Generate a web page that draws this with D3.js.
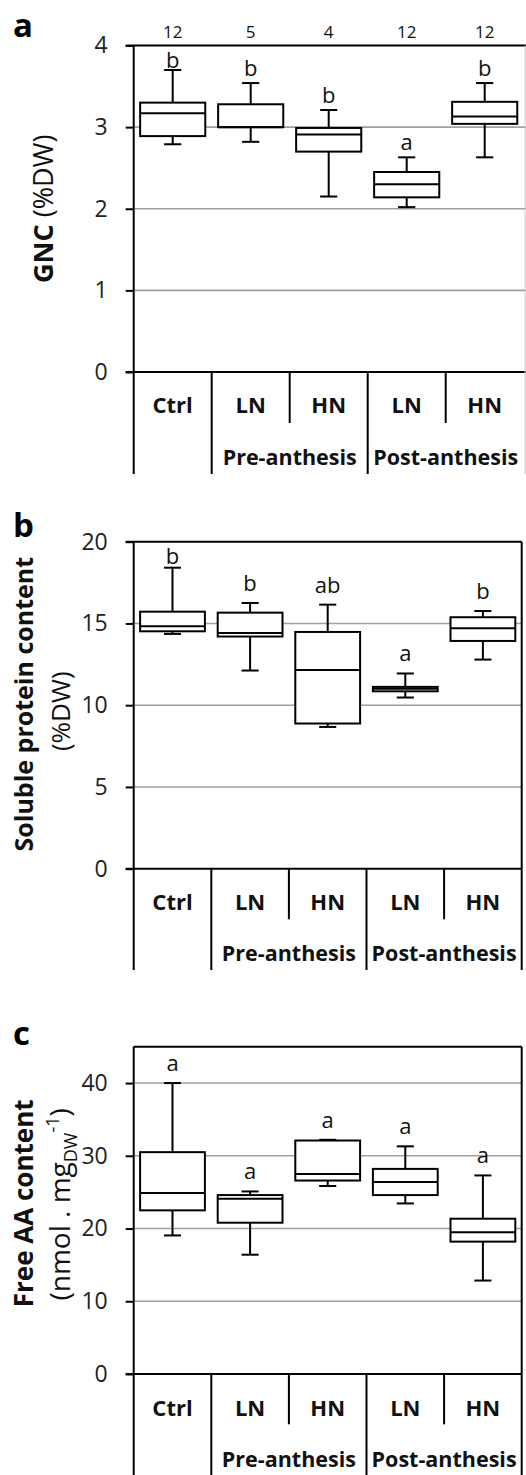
<!DOCTYPE html>
<html>
<head>
<meta charset="utf-8">
<script src="https://cdnjs.cloudflare.com/ajax/libs/d3/7.8.5/d3.min.js"></script>
<style>
body { margin: 0; background: #fff; }
svg { display: block; font-family: "Open Sans", sans-serif; }
</style>
</head>
<body>
<div id="chart-area"></div>
<script>

// Categories
var groups = ["Ctrl", "LN", "HN", "LN", "HN"];
var periods = ["Pre-anthesis", "Post-anthesis"];
var periodStart = [1, 3];

// Panel a : grain N content
var gncN = [12, 5, 4, 12, 12];
var gncHigh = [3.70, 3.54, 3.21, 2.63, 3.54];
var gncQ3 = [3.30, 3.28, 2.99, 2.45, 3.31];
var gncMed = [3.17, 3.00, 2.91, 2.30, 3.13];
var gncQ1 = [2.89, 3.00, 2.70, 2.14, 3.04];
var gncLow = [2.79, 2.82, 2.15, 2.02, 2.63];
var gncLetters = ["b", "b", "b", "a", "b"];
var gncTicks = [0, 1, 2, 3, 4];

// Panel b : soluble protein
var protHigh = [18.41, 16.25, 16.15, 11.94, 15.76];
var protQ3 = [15.72, 15.66, 14.48, 11.12, 15.38];
var protMed = [14.83, 14.42, 12.16, 11.00, 14.70];
var protQ1 = [14.52, 14.20, 8.88, 10.85, 13.93];
var protLow = [14.36, 12.12, 8.67, 10.47, 12.79];
var protLetters = ["b", "b", "ab", "a", "b"];
var protTicks = [0, 5, 10, 15, 20];

// Panel c : free amino acids
var aaHigh = [40.0, 25.1, 32.2, 31.3, 27.3];
var aaQ3 = [30.5, 24.6, 32.1, 28.2, 21.35];
var aaMed = [24.9, 24.1, 27.5, 26.4, 19.5];
var aaQ1 = [22.5, 20.8, 26.6, 24.6, 18.2];
var aaLow = [19.05, 16.4, 25.85, 23.45, 12.85];
var aaLetters = ["a", "a", "a", "a", "a"];
var aaTicks = [0, 10, 20, 30, 40];

var W = 526, H = 1475;

var svg = d3.select("#chart-area").append("svg")
	.attr("width", W)
	.attr("height", H);

var panels = [
	{ title: "a", titleY: 37, top: 45.5, y0: 372, max: 4, ticks: gncTicks, right: 523.7, hEnd: 526,
	  catY: 405, groupY: 457, lineBottom: 474, shortBottom: 423, gap: 7, n: gncN,
	  high: gncHigh, q3: gncQ3, med: gncMed, q1: gncQ1, low: gncLow, letters: gncLetters, ylab: "a" },
	{ title: "b", titleY: 537, top: 541.7, y0: 868.7, max: 20, ticks: protTicks, right: 521.7, hEnd: 521.7,
	  catY: 902, groupY: 953.3, lineBottom: 970, shortBottom: 919.3, gap: 12,
	  high: protHigh, q3: protQ3, med: protMed, q1: protQ1, low: protLow, letters: protLetters, ylab: "b" },
	{ title: "c", titleY: 1045, top: 1046.7, y0: 1374, max: 45, ticks: aaTicks, right: 521.7, hEnd: 521.7,
	  catY: 1408, groupY: 1459.3, lineBottom: 1475, shortBottom: 1424.3, gap: 12,
	  high: aaHigh, q3: aaQ3, med: aaMed, q1: aaQ1, low: aaLow, letters: aaLetters, ylab: "c" }
];

var left = 133.7;

panels.forEach(drawPanel);

function drawPanel(p) {
	var g = svg.append("g");

	var x = d3.scaleBand()
		.domain(d3.range(groups.length))
		.range([left, p.right]);

	var y = d3.scaleLinear()
		.domain([0, p.max])
		.range([p.y0, p.top]);

	var bw = x.bandwidth();
	var boxW = bw * 0.835;
	var capW = bw * 0.22;

	// gridlines
	g.selectAll(".grid").data(p.ticks.filter(function(d){ return d > 0 && d < p.max; }))
		.enter().append("line")
		.attr("x1", left).attr("x2", p.hEnd)
		.attr("y1", function(d){ return y(d); })
		.attr("y2", function(d){ return y(d); })
		.attr("stroke", "#a0a0a0")
		.attr("stroke-width", 1.6);

	// y axis ticks + labels
	var yAxis = d3.axisLeft(y).tickValues(p.ticks).tickFormat(d3.format("d"))
		.tickSize(8).tickPadding(18);
	var ax = g.append("g")
		.attr("transform", "translate(" + left + ",0)")
		.call(yAxis);
	ax.select(".domain").remove();
	ax.selectAll(".tick line").attr("stroke", "#000").attr("stroke-width", 2);
	ax.selectAll(".tick text")
		.attr("font-family", "Open Sans")
		.attr("font-size", 23)
		.attr("fill", "#222");

	// frame
	var topLine = g.append("line").attr("x1", left - 8).attr("x2", p.hEnd)
		.attr("y1", p.top).attr("y2", p.top)
		.attr("stroke", "#000").attr("stroke-width", 2);
	if (p.ticks.indexOf(p.max) < 0) topLine.attr("x1", left);
	g.append("line").attr("x1", left - 8).attr("x2", p.hEnd)
		.attr("y1", p.y0).attr("y2", p.y0)
		.attr("stroke", "#000").attr("stroke-width", 2);

	// vertical separators
	var seps = [
		{ x: left, bottom: p.lineBottom, top: p.top },
		{ x: x(1), bottom: p.lineBottom, top: p.y0 },
		{ x: x(2), bottom: p.shortBottom, top: p.y0 },
		{ x: x(3), bottom: p.lineBottom, top: p.y0 },
		{ x: x(4), bottom: p.shortBottom, top: p.y0 }
	];
	g.selectAll(".sep").data(seps).enter().append("line")
		.attr("x1", function(d){ return d.x; })
		.attr("x2", function(d){ return d.x; })
		.attr("y1", function(d){ return d.top; })
		.attr("y2", function(d){ return d.bottom; })
		.attr("stroke", "#000").attr("stroke-width", 2);

	// right border
	if (p.hEnd > p.right) {
		g.append("line").attr("x1", 525).attr("x2", 525)
			.attr("y1", p.top).attr("y2", p.lineBottom)
			.attr("stroke", "#c8c8c8").attr("stroke-width", 1);
	} else {
		g.append("line").attr("x1", p.right).attr("x2", p.right)
			.attr("y1", p.top).attr("y2", p.lineBottom)
			.attr("stroke", "#000").attr("stroke-width", 2);
	}

	// category labels
	g.selectAll(".cat").data(groups).enter().append("text")
		.attr("x", function(d, i){ return x(i) + bw / 2; })
		.attr("y", p.catY)
		.attr("dy", "0.36em")
		.attr("text-anchor", "middle")
		.attr("font-weight", "bold")
		.attr("font-size", 22)
		.attr("fill", "#111")
		.text(function(d){ return d; });

	g.selectAll(".period").data(periods).enter().append("text")
		.attr("x", function(d, i){ return x(periodStart[i]) + bw; })
		.attr("y", p.groupY)
		.attr("dy", "0.36em")
		.attr("text-anchor", "middle")
		.attr("font-weight", "bold")
		.attr("font-size", 21.5)
		.attr("fill", "#111")
		.text(function(d){ return d; });

	// boxes
	var idx = d3.range(groups.length);
	var box = g.selectAll(".box").data(idx).enter().append("g")
		.attr("transform", function(i){ return "translate(" + (x(i) + bw / 2) + ",0)"; });

	box.append("line")
		.attr("y1", function(i){ return y(p.high[i]); })
		.attr("y2", function(i){ return y(p.q3[i]); });
	box.append("line")
		.attr("y1", function(i){ return y(p.q1[i]); })
		.attr("y2", function(i){ return y(p.low[i]); });
	box.append("line")
		.attr("x1", -capW / 2).attr("x2", capW / 2)
		.attr("y1", function(i){ return y(p.high[i]); })
		.attr("y2", function(i){ return y(p.high[i]); });
	box.append("line")
		.attr("x1", -capW / 2).attr("x2", capW / 2)
		.attr("y1", function(i){ return y(p.low[i]); })
		.attr("y2", function(i){ return y(p.low[i]); });
	box.append("rect")
		.attr("x", -boxW / 2)
		.attr("width", boxW)
		.attr("y", function(i){ return y(p.q3[i]); })
		.attr("height", function(i){ return y(p.q1[i]) - y(p.q3[i]); })
		.attr("fill", "#fff");
	box.append("line")
		.attr("x1", -boxW / 2).attr("x2", boxW / 2)
		.attr("y1", function(i){ return y(p.med[i]); })
		.attr("y2", function(i){ return y(p.med[i]); });
	box.selectAll("line, rect")
		.attr("stroke", "#000")
		.attr("stroke-width", 2);

	// significance letters
	box.append("text")
		.attr("y", function(i){ return Math.max(y(p.high[i]) - p.gap, p.top + 22); })
		.attr("text-anchor", "middle")
		.attr("font-size", 22)
		.attr("fill", "#111")
		.text(function(i){ return p.letters[i]; });

	// sample sizes
	if (p.n) {
		g.selectAll(".n").data(p.n).enter().append("text")
			.attr("x", function(d, i){ return x(i) + bw / 2; })
			.attr("y", 38)
			.attr("text-anchor", "middle")
			.attr("font-size", 17)
			.attr("fill", "#111")
			.text(function(d){ return d; });
	}

	// panel letter
	g.append("text")
		.attr("x", 13).attr("y", p.titleY)
		.attr("font-weight", "bold")
		.attr("font-size", 33)
		.attr("fill", "#000")
		.text(p.title);

	// y label
	var mid = (p.top + p.y0) / 2;
	if (p.ylab === "a") {
		var t = g.append("text")
			.attr("transform", "translate(53," + mid + ") rotate(-90)")
			.attr("text-anchor", "middle")
			.attr("font-size", 27)
			.attr("fill", "#111");
		t.append("tspan").attr("font-weight", "bold").text("GNC");
		t.append("tspan").text(" (%DW)");
	} else if (p.ylab === "b") {
		g.append("text")
			.attr("transform", "translate(33," + (mid - 1) + ") rotate(-90)")
			.attr("text-anchor", "middle")
			.attr("font-size", 25)
			.attr("font-weight", "bold")
			.attr("fill", "#111")
			.text("Soluble protein content");
		g.append("text")
			.attr("transform", "translate(70," + (mid + 6) + ") rotate(-90)")
			.attr("text-anchor", "middle")
			.attr("font-size", 26)
			.attr("fill", "#111")
			.text("(%DW)");
	} else {
		g.append("text")
			.attr("transform", "translate(33," + (mid - 7) + ") rotate(-90)")
			.attr("text-anchor", "middle")
			.attr("font-size", 26)
			.attr("font-weight", "bold")
			.attr("fill", "#111")
			.text("Free AA content");
		var t2 = g.append("text")
			.attr("transform", "translate(70," + (mid - 6) + ") rotate(-90)")
			.attr("text-anchor", "middle")
			.attr("font-size", 28)
			.attr("fill", "#111");
		t2.append("tspan").text("(nmol . mg");
		t2.append("tspan").attr("font-size", 18).attr("dy", 7).text("DW");
		t2.append("tspan").attr("font-size", 18).attr("dy", -18).text("-1");
		t2.append("tspan").attr("dy", 11).text(")");
	}
}

</script>
</body>
</html>
